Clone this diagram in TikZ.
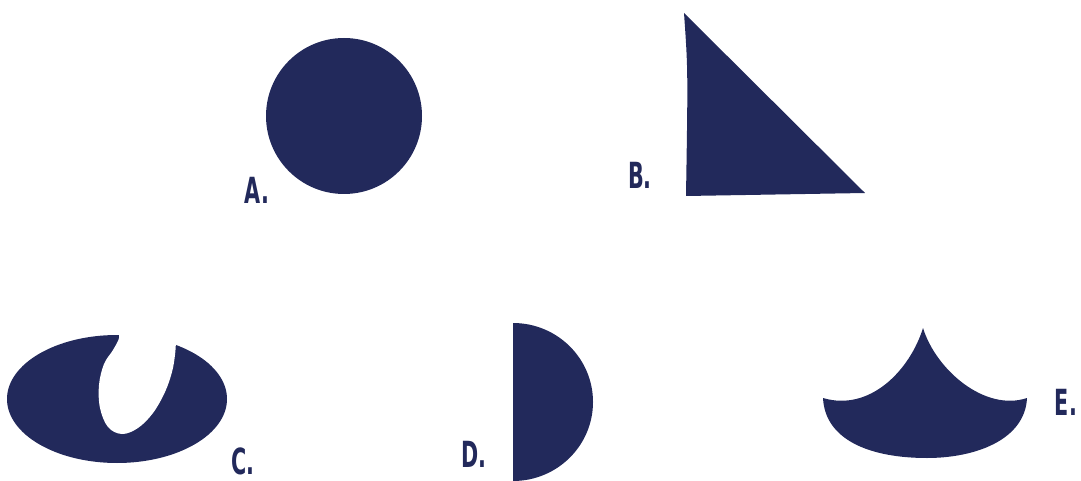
\documentclass[tikz,border=0pt]{standalone}
\usepackage{fontspec}
\setmainfont{DejaVu Sans Condensed}[BoldFont=DejaVu Sans Condensed Bold]
\usetikzlibrary{positioning}
\definecolor{navy}{RGB}{34,41,91}

\begin{document}
\begin{tikzpicture}[x=1pt, y=-1pt,
		shapefill/.style={fill=navy, draw=none},
		hole/.style={fill=white, draw=none},
		lbl/.style={inner sep=0pt, text=navy, font=\fontsize{36}{36}\selectfont\bfseries}]
		
		\useasboundingbox (0,0) rectangle (1081,481);
		
		% A: disc
		\fill[shapefill] (344,116) ellipse [x radius=78, y radius=78];
		\node[lbl] (labA) at (257,190) {\scalebox{0.64}[1]{A.}};
		
		% B: right triangle
		\fill[shapefill] (684,13) .. controls (688,70) .. (686,196) -- (865,193) -- cycle;
		\node[lbl] (labB) at (640,175) {\scalebox{0.64}[1]{B.}};
		
		% C: ellipse with a notch
		\fill[shapefill] (117,399) ellipse [x radius=110, y radius=64];
		\fill[hole] plot[smooth, tension=0.6] coordinates {(118,328) (119,338) (113,350) (104,364) (99,385) (100,408) (108,427) (122,434) (138,428) (153,413) (165,392) (172,372) (175,355) (176,340) (176,328)} -- cycle;
		\node[lbl] (labC) at (243,461) {\scalebox{0.64}[1]{C.}};
		
		% D: half disc
		\fill[shapefill] (513,323) arc[start angle=90, end angle=-90, x radius=80, y radius=-79] -- cycle;
		\node[lbl] (labD) at (474,454) {\scalebox{0.64}[1]{D.}};
		
		% E: curved cusp
		\fill[shapefill] (823,398) .. controls (870,412) and (910,370) .. (923,328)
			.. controls (936,370) and (985,412) .. (1027,398)
			.. controls (1025,440) and (975,458) .. (927,458)
			.. controls (870,458) and (825,440) .. (823,398) -- cycle;
		\node[lbl] (labE) at (1066,402) {\scalebox{0.64}[1]{E.}};
		
	\end{tikzpicture}
\end{document}
